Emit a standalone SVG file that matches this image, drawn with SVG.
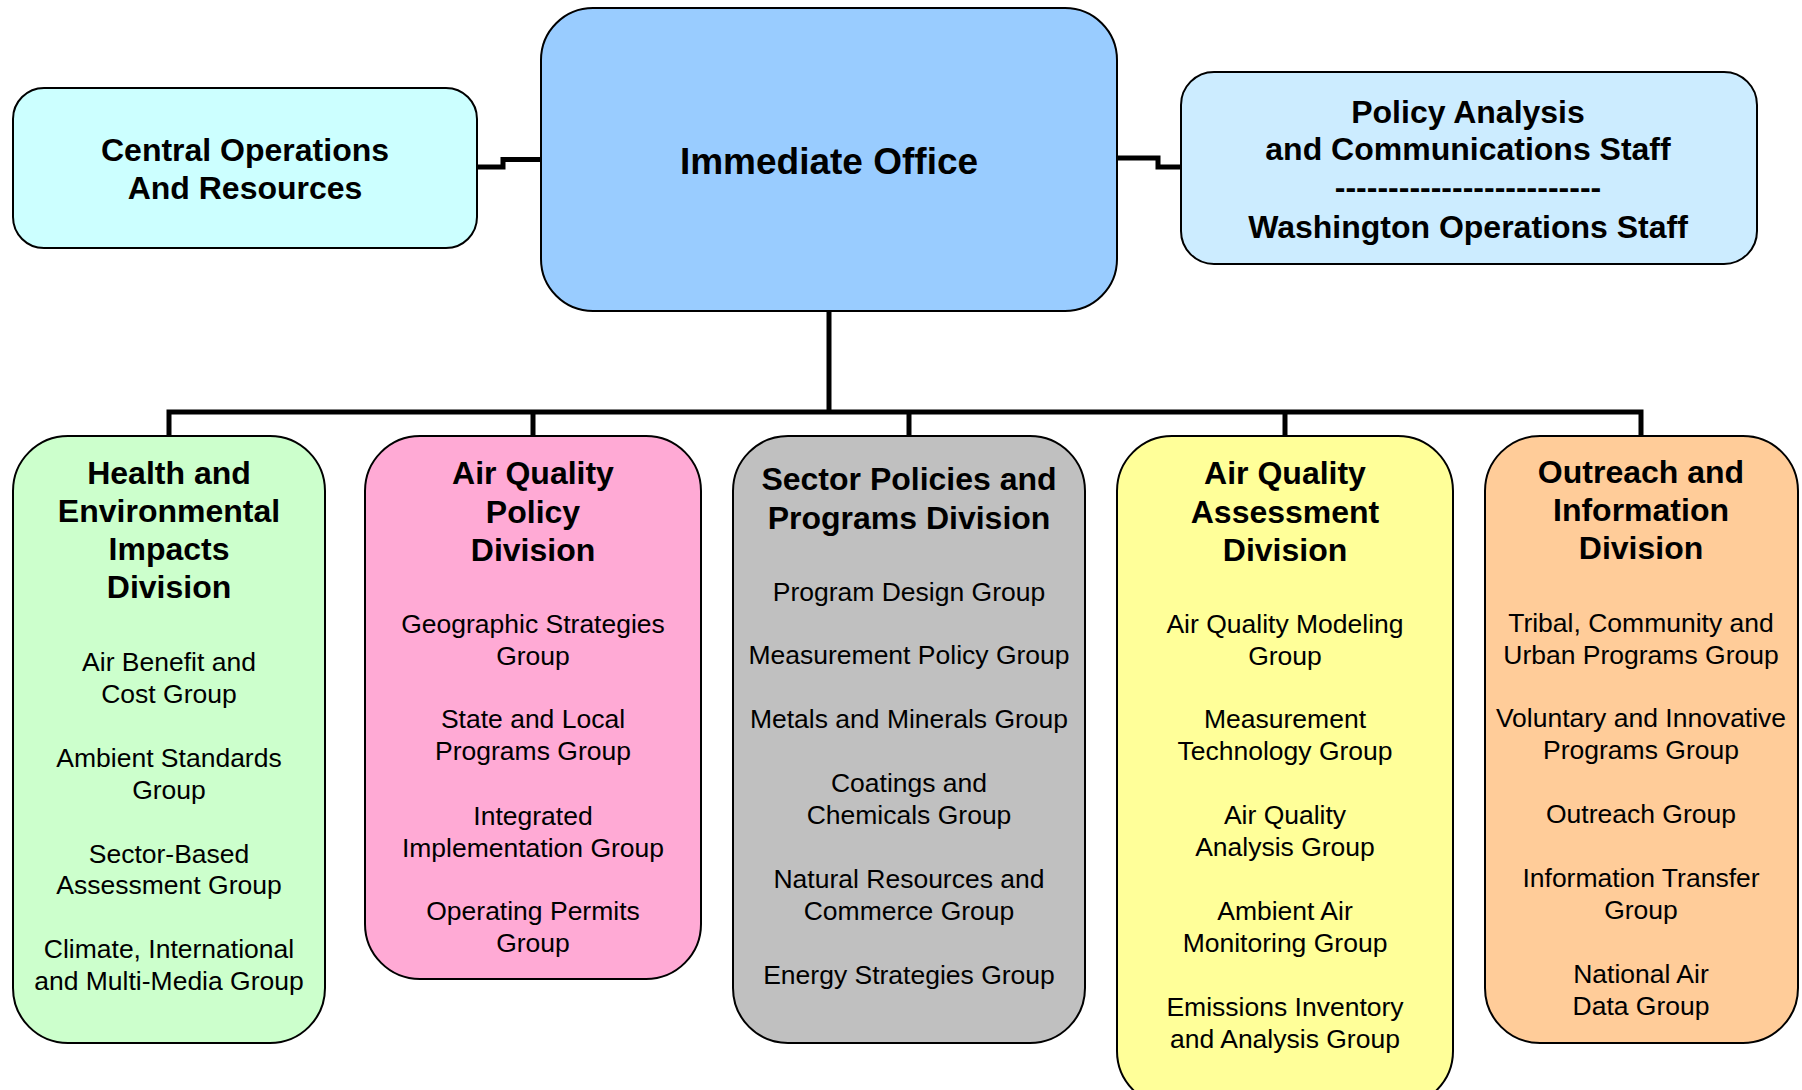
<svg xmlns="http://www.w3.org/2000/svg" width="1802" height="1090" viewBox="0 0 1802 1090">
<style>
.box{stroke:#000;stroke-width:2}
.conn{fill:none;stroke:#000;stroke-width:5;stroke-linejoin:miter}
text{font-family:"Liberation Sans",Arial,sans-serif;text-anchor:middle;fill:#000}
.top{font-size:32px;font-weight:bold}
.io{font-size:37px;font-weight:bold}
.hd{font-size:32px;font-weight:bold}
.bd{font-size:26.5px}
</style>
<rect width="1802" height="1090" fill="#fff"/>
<g id="connectors">
<polyline class="conn" points="477,167 503,167 503,159.5 541,159.5"/>
<polyline class="conn" points="1117,158 1158,158 1158,167 1181,167"/>
<line class="conn" x1="829" y1="311" x2="829" y2="412"/>
<polyline class="conn" points="169,436 169,412 1641,412 1641,436"/>
<line class="conn" x1="533" y1="412" x2="533" y2="436"/>
<line class="conn" x1="909" y1="412" x2="909" y2="436"/>
<line class="conn" x1="1285" y1="412" x2="1285" y2="436"/>
</g>
<g id="central-operations">
<rect class="box" x="13" y="88" width="464" height="160" rx="31" fill="#CCFFFF"/>
<text class="top" x="245" y="161">Central Operations</text>
<text class="top" x="245" y="199">And Resources</text>
</g>
<g id="immediate-office">
<rect class="box" x="541" y="8" width="576" height="303" rx="52" fill="#99CCFF"/>
<text class="io" x="829" y="174">Immediate Office</text>
</g>
<g id="policy-analysis">
<rect class="box" x="1181" y="72" width="576" height="192" rx="33" fill="#CCECFF"/>
<text class="top" x="1468" y="123">Policy Analysis</text>
<text class="top" x="1468" y="160">and Communications Staff</text>
<text class="top" x="1468" y="198">-------------------------</text>
<text class="top" x="1468" y="238">Washington Operations Staff</text>
</g>
<g id="health-environmental">
<rect class="box" x="13" y="436" width="312" height="607" rx="55" fill="#CCFFCC"/>
<text class="hd" x="169" y="484">Health and</text>
<text class="hd" x="169" y="522">Environmental</text>
<text class="hd" x="169" y="560">Impacts</text>
<text class="hd" x="169" y="598">Division</text>
<text class="bd" x="169" y="671">Air Benefit and</text>
<text class="bd" x="169" y="703">Cost Group</text>
<text class="bd" x="169" y="767">Ambient Standards</text>
<text class="bd" x="169" y="799">Group</text>
<text class="bd" x="169" y="863">Sector-Based</text>
<text class="bd" x="169" y="894">Assessment Group</text>
<text class="bd" x="169" y="958">Climate, International</text>
<text class="bd" x="169" y="990">and Multi-Media Group</text>
</g>
<g id="air-quality-policy">
<rect class="box" x="365" y="436" width="336" height="543" rx="55" fill="#FFAAD5"/>
<text class="hd" x="533" y="484">Air Quality</text>
<text class="hd" x="533" y="523">Policy</text>
<text class="hd" x="533" y="561">Division</text>
<text class="bd" x="533" y="633">Geographic Strategies</text>
<text class="bd" x="533" y="665">Group</text>
<text class="bd" x="533" y="728">State and Local</text>
<text class="bd" x="533" y="760">Programs Group</text>
<text class="bd" x="533" y="825">Integrated</text>
<text class="bd" x="533" y="857">Implementation Group</text>
<text class="bd" x="533" y="920">Operating Permits</text>
<text class="bd" x="533" y="952">Group</text>
</g>
<g id="sector-policies">
<rect class="box" x="733" y="436" width="352" height="607" rx="55" fill="#C0C0C0"/>
<text class="hd" x="909" y="490">Sector Policies and</text>
<text class="hd" x="909" y="529">Programs Division</text>
<text class="bd" x="909" y="601">Program Design Group</text>
<text class="bd" x="909" y="664">Measurement Policy Group</text>
<text class="bd" x="909" y="728">Metals and Minerals Group</text>
<text class="bd" x="909" y="792">Coatings and</text>
<text class="bd" x="909" y="824">Chemicals Group</text>
<text class="bd" x="909" y="888">Natural Resources and</text>
<text class="bd" x="909" y="920">Commerce Group</text>
<text class="bd" x="909" y="984">Energy Strategies Group</text>
</g>
<g id="air-quality-assessment">
<rect class="box" x="1117" y="436" width="336" height="670" rx="55" fill="#FFFF99"/>
<text class="hd" x="1285" y="484">Air Quality</text>
<text class="hd" x="1285" y="523">Assessment</text>
<text class="hd" x="1285" y="561">Division</text>
<text class="bd" x="1285" y="633">Air Quality Modeling</text>
<text class="bd" x="1285" y="665">Group</text>
<text class="bd" x="1285" y="728">Measurement</text>
<text class="bd" x="1285" y="760">Technology Group</text>
<text class="bd" x="1285" y="824">Air Quality</text>
<text class="bd" x="1285" y="856">Analysis Group</text>
<text class="bd" x="1285" y="920">Ambient Air</text>
<text class="bd" x="1285" y="952">Monitoring Group</text>
<text class="bd" x="1285" y="1016">Emissions Inventory</text>
<text class="bd" x="1285" y="1048">and Analysis Group</text>
</g>
<g id="outreach-information">
<rect class="box" x="1485" y="436" width="313" height="607" rx="55" fill="#FFCC99"/>
<text class="hd" x="1641" y="483">Outreach and</text>
<text class="hd" x="1641" y="521">Information</text>
<text class="hd" x="1641" y="559">Division</text>
<text class="bd" x="1641" y="632">Tribal, Community and</text>
<text class="bd" x="1641" y="664">Urban Programs Group</text>
<text class="bd" x="1641" y="727">Voluntary and Innovative</text>
<text class="bd" x="1641" y="759">Programs Group</text>
<text class="bd" x="1641" y="823">Outreach Group</text>
<text class="bd" x="1641" y="887">Information Transfer</text>
<text class="bd" x="1641" y="919">Group</text>
<text class="bd" x="1641" y="983">National Air</text>
<text class="bd" x="1641" y="1015">Data Group</text>
</g>
</svg>
